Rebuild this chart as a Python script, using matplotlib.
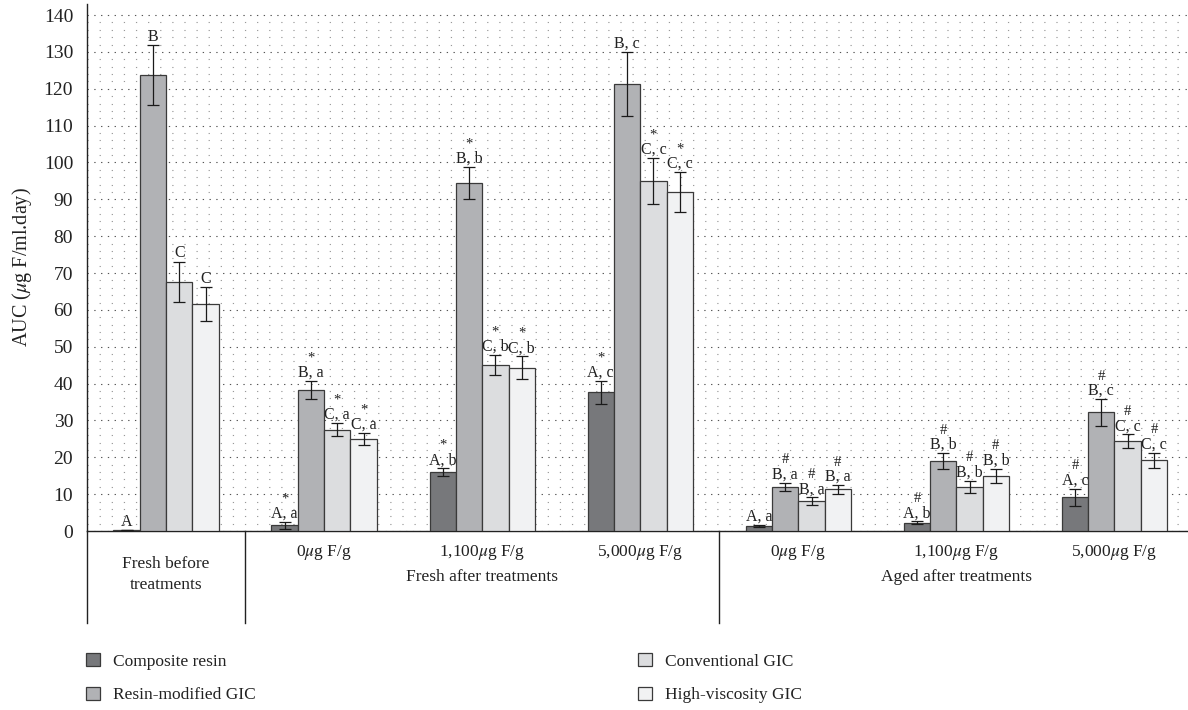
import numpy as np
import matplotlib.pyplot as plt
from matplotlib.patches import Patch
from matplotlib.transforms import blended_transform_factory

plt.rcParams['font.family'] = ['Liberation Serif', 'DejaVu Serif']
plt.rcParams['mathtext.fontset'] = 'stix'

# データ (AUC, μg F/ml.day)
series = ['Composite resin', 'Resin-modified GIC', 'Conventional GIC', 'High-viscosity GIC']
colors = ['#77787b', '#b1b2b5', '#dcdddf', '#f1f2f3']

composite = [0.3, 1.5, 15.9, 37.6, 1.4, 2.3, 9.2]
composite_err = [0.0, 1.0, 1.1, 3.1, 0.2, 0.3, 2.3]
rmgic = [123.7, 38.3, 94.4, 121.3, 12.0, 19.0, 32.2]
rmgic_err = [8.1, 2.5, 4.4, 8.8, 1.1, 2.1, 3.6]
conv = [67.6, 27.5, 45.1, 95.0, 8.1, 12.0, 24.4]
conv_err = [5.5, 1.8, 2.7, 6.2, 1.0, 1.7, 1.8]
hv = [61.6, 25.0, 44.3, 92.0, 11.3, 15.0, 19.2]
hv_err = [4.6, 1.6, 3.1, 5.4, 1.2, 1.9, 2.1]

values = [composite, rmgic, conv, hv]
errors = [composite_err, rmgic_err, conv_err, hv_err]

# 文字ラベルと記号 (* = fresh, # = aged)
letters = [
    ['A', 'A, a', 'A, b', 'A, c', 'A, a', 'A, b', 'A, c'],
    ['B', 'B, a', 'B, b', 'B, c', 'B, a', 'B, b', 'B, c'],
    ['C', 'C, a', 'C, b', 'C, c', 'B, a', 'B, b', 'C, c'],
    ['C', 'C, a', 'C, b', 'C, c', 'B, a', 'B, b', 'C, c'],
]
marks = [
    ['', '*', '*', '*', '', '#', '#'],
    ['', '*', '*', '', '#', '#', '#'],
    ['', '*', '*', '*', '#', '#', '#'],
    ['', '*', '*', '*', '#', '#', '#'],
]

sub_labels = ['', r'0$\mu$g F/g', r'1,100$\mu$g F/g', r'5,000$\mu$g F/g',
              r'0$\mu$g F/g', r'1,100$\mu$g F/g', r'5,000$\mu$g F/g']
yticks = np.arange(0, 141, 10)

# 図
fig = plt.figure(figsize=(11.88, 7.10), dpi=100)
ax = fig.add_axes([87 / 1188, 179 / 710, 1101 / 1188, 527 / 710])

x = np.arange(7)
w = 0.1665
for i in range(4):
    xs = x + (i - 1.5) * w
    ax.bar(xs, values[i], width=w, color=colors[i], edgecolor='#3a3a3a',
           linewidth=0.9, zorder=3)
    ax.errorbar(xs, values[i], yerr=errors[i], fmt='none', ecolor='#1a1a1a',
                elinewidth=0.9, capsize=4, capthick=0.9, zorder=4)
    for j in range(7):
        top = values[i][j] + errors[i][j]
        ax.annotate(letters[i][j], (xs[j], top), xytext=(0, 3),
                    textcoords='offset points', ha='center', va='baseline',
                    fontsize=11.5, color='#222222', zorder=5)
        if marks[i][j]:
            ax.annotate(marks[i][j], (xs[j], top), xytext=(0, 16.5),
                        textcoords='offset points', ha='center', va='center',
                        fontsize=10.5, color='#222222', zorder=5)

ax.set_xlim(-0.5, 6.465)
ax.set_ylim(0, 143)
ax.set_yticks(yticks)
ax.set_yticks(np.arange(2, 140, 2), minor=True)
ax.tick_params(axis='y', which='both', length=0, labelsize=14, pad=10, colors='#222222')
ax.set_xticks([])
ax.grid(which='major', axis='y', color='#555555', linewidth=0.8,
        linestyle=(0, (1.2, 4.9)), zorder=0)
ax.grid(which='minor', axis='y', color='#999999', linewidth=0.8,
        linestyle=(0, (1.1, 9.8)), zorder=0)
ax.set_axisbelow(True)

for s in ['top', 'right']:
    ax.spines[s].set_visible(False)
for s in ['left', 'bottom']:
    ax.spines[s].set_color('#222222')
    ax.spines[s].set_linewidth(1.0)

ax.set_ylabel(r'AUC ($\mu$g F/ml.day)', fontsize=14.5, labelpad=7, color='#222222')

# カテゴリ軸の区切り線と文字
tr = blended_transform_factory(ax.transData, ax.transAxes)
for xv in [-0.5, 0.5, 3.5]:
    ax.plot([xv, xv], [0, -0.1746], transform=tr, color='#222222',
            linewidth=1.0, clip_on=False)

for j in range(7):
    if sub_labels[j]:
        ax.text(x[j], -0.040, sub_labels[j], transform=tr, ha='center',
                va='center', fontsize=12.5, color='#222222')

ax.text(0, -0.0825, 'Fresh before\ntreatments', transform=tr, ha='center',
        va='center', fontsize=12.5, linespacing=1.35, color='#222222')
ax.text(2, -0.0873, 'Fresh after treatments', transform=tr, ha='center',
        va='center', fontsize=12.5, color='#222222')
ax.text(5, -0.0873, 'Aged after treatments', transform=tr, ha='center',
        va='center', fontsize=12.5, color='#222222')

# 凡例
handles = [Patch(facecolor=colors[i], edgecolor='#3a3a3a', linewidth=0.9,
                 label=series[i]) for i in range(4)]
leg_kw = dict(loc='upper left', frameon=False, borderaxespad=0, borderpad=0,
              fontsize=12.5, handlelength=0.8, handleheight=0.8,
              handletextpad=0.75, labelspacing=0.98, labelcolor='#222222')
fig.legend(handles=handles[:2], bbox_to_anchor=(86 / 1188, 1 - 653 / 710), **leg_kw)
fig.legend(handles=handles[2:], bbox_to_anchor=(638 / 1188, 1 - 653 / 710), **leg_kw)

fig.savefig('out.png', dpi=100)
